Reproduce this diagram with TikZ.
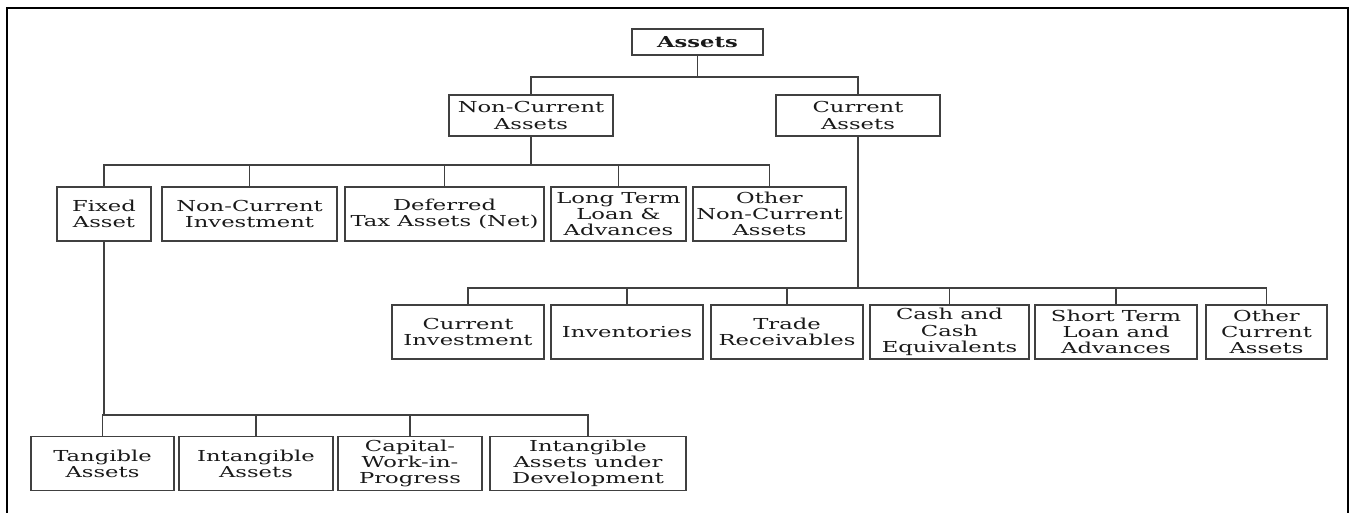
\documentclass[tikz,border=0pt]{standalone}
\usepackage{fontspec}
\newfontfamily\chartfont{DejaVu Serif}[FakeStretch=1.5]
\begin{document}
\begin{tikzpicture}[
    box/.style={draw=black!75, line width=0.9pt, align=center, inner sep=1pt, text=black!90,
      font=\chartfont\fontsize{8.6}{9.2}\selectfont},
    row/.style={box, minimum height=1.08cm},
    link/.style={draw=black!75, line width=0.9pt}
  ]
  \useasboundingbox (0,0) rectangle (27.14,10.26);
  \draw[line width=1.4pt] (0.14,0) -- (0.14,10.1) -- (26.96,10.1) -- (26.96,0);

  \node[box, minimum width=2.62cm, minimum height=0.52cm] (assets) at (13.95,9.42) {\bfseries Assets};
  \node[box, minimum width=3.28cm, minimum height=0.82cm] (nca) at (10.62,7.95) {Non-Current\\Assets};
  \node[box, minimum width=3.28cm, minimum height=0.82cm] (ca) at (17.16,7.95) {Current\\Assets};

  \node[row, minimum width=1.88cm] (fixed) at (2.08,5.98) {Fixed\\Asset};
  \node[row, minimum width=3.50cm] (ncinv) at (4.99,5.98) {Non-Current\\Investment};
  \node[row, minimum width=3.98cm] (dta) at (8.89,5.98) {Deferred\\Tax Assets (Net)};
  \node[row, minimum width=2.70cm] (ltl) at (12.37,5.98) {Long Term\\Loan \&\\Advances};
  \node[row, minimum width=3.06cm] (onca) at (15.39,5.98) {Other\\Non-Current\\Assets};

  \node[row, minimum width=3.04cm] (cinv) at (9.36,3.62) {Current\\Investment};
  \node[row, minimum width=3.04cm] (invent) at (12.54,3.62) {Inventories};
  \node[row, minimum width=3.04cm] (trade) at (15.74,3.62) {Trade\\Receivables};
  \node[row, minimum width=3.18cm] (cash) at (18.99,3.62) {Cash and\\Cash\\Equivalents};
  \node[row, minimum width=3.24cm] (stl) at (22.32,3.62) {Short Term\\Loan and\\Advances};
  \node[row, minimum width=2.42cm] (oca) at (25.33,3.62) {Other\\Current\\Assets};

  \node[row, minimum width=2.86cm] (tang) at (2.05,0.99) {Tangible\\Assets};
  \node[row, minimum width=3.08cm] (intang) at (5.12,0.99) {Intangible\\Assets};
  \node[row, minimum width=2.88cm] (cwip) at (8.20,0.99) {Capital-\\Work-in-\\Progress};
  \node[row, minimum width=3.92cm] (iaud) at (11.76,0.99) {Intangible\\Assets under\\Development};

  \draw[link] (assets.south) -- ++(0,-0.42) -| (nca.north);
  \draw[link] (assets.south) -- ++(0,-0.42) -| (ca.north);
  \foreach \n in {fixed,ncinv,dta,ltl,onca}
    \draw[link] (nca.south) -- ++(0,-0.56) -| (\n.north);
  \foreach \n in {cinv,invent,trade,cash,stl,oca}
    \draw[link] (ca.south) -- ++(0,-3.02) -| (\n.north);
  \foreach \n in {tang,intang,cwip,iaud}
    \draw[link] (fixed.south) -- ++(0,-3.46) -| (\n.north);
\end{tikzpicture}
\end{document}
